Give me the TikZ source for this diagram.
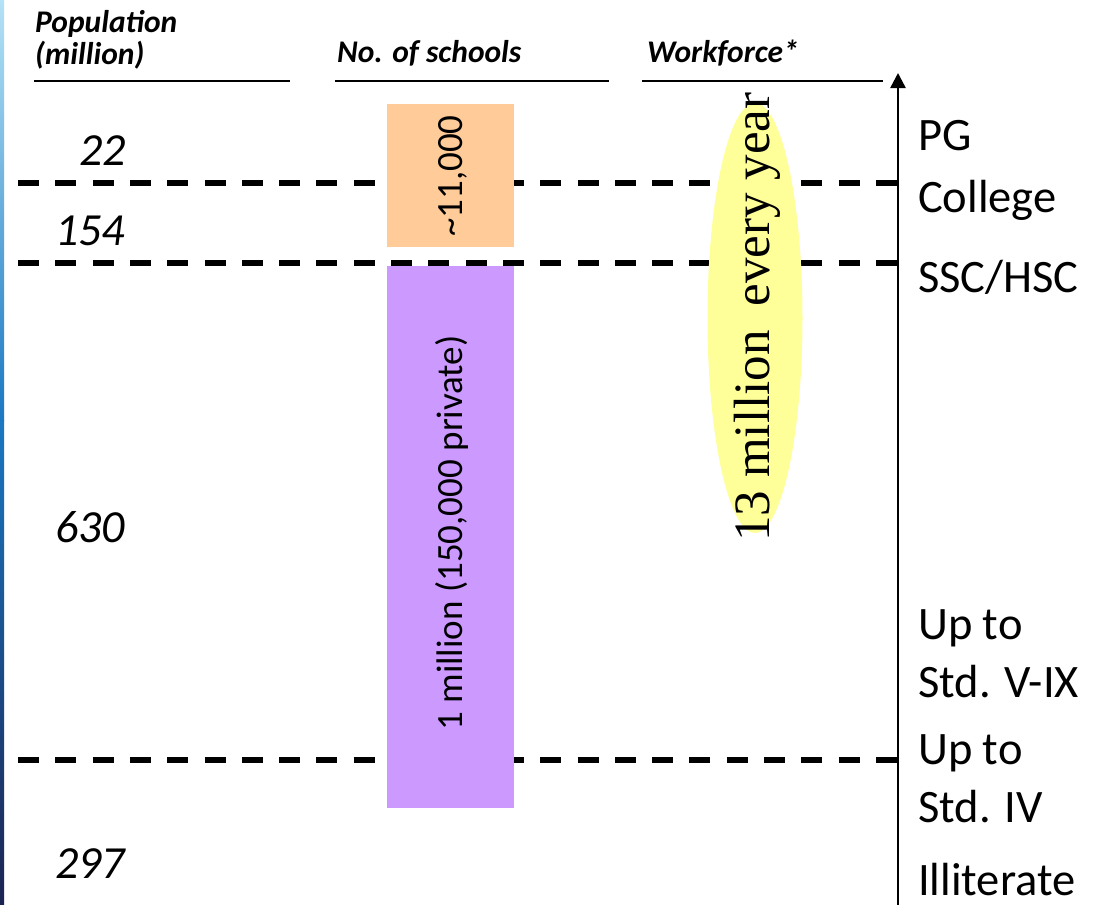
\documentclass[tikz,border=0pt]{standalone}
\usepackage{fontspec}
\setmainfont{Carlito}
\newfontfamily\timesfont{Liberation Serif}
\usetikzlibrary{arrows.meta}
\definecolor{peach}{HTML}{FFCC99}
\definecolor{lilac}{HTML}{CC99FF}
\definecolor{lemon}{HTML}{FFFF99}
\definecolor{stripTop}{HTML}{B4E2F6}
\definecolor{stripMid}{HTML}{1A78C2}
\definecolor{stripBot}{HTML}{1C2352}
\tikzset{
  hdr/.style={anchor=base west, inner sep=0pt, font=\fontsize{31.5}{36}\selectfont\bfseries\itshape},
  popnum/.style={anchor=base west, inner sep=0pt, font=\fontsize{46}{54}\selectfont\itshape},
  level/.style={anchor=base west, inner sep=0pt, font=\fontsize{46.5}{54}\selectfont},
  boxtext/.style={inner sep=0pt, rotate=90, font=\fontsize{37}{44}\selectfont},
  divider/.style={line width=5.5pt, dash pattern=on 21pt off 16.3pt},
  rule/.style={line width=2pt},
}
\begin{document}
\begin{tikzpicture}[x=1pt,y=-1pt]
\useasboundingbox (0,0) rectangle (1104,905);
\fill[white] (0,0) rectangle (1104,905);
% left slide strip
\shade[top color=stripTop, bottom color=stripMid] (0,0) rectangle (4,420);
\shade[top color=stripMid, bottom color=stripBot] (0,420) rectangle (4,905);

% headers
\node[hdr] (hpop) at (35,32) {Population};
\node[hdr] (hmil) at (35,64) {(million)};
\node[hdr] (hsch) at (337,62) {No. of schools};
\node[hdr] (hwork) at (647,62) {Workforce*};
\coordinate (r1a) at (34,81);  \coordinate (r1b) at (290,81);
\coordinate (r2a) at (335,81); \coordinate (r2b) at (609,81);
\coordinate (r3a) at (642,81); \coordinate (r3b) at (883,81);
\draw[rule] (r1a) -- (r1b);
\draw[rule] (r2a) -- (r2b);
\draw[rule] (r3a) -- (r3b);

% dashed level dividers
\coordinate (d1a) at (18,183); \coordinate (d1b) at (898,183);
\coordinate (d2a) at (18,263); \coordinate (d2b) at (898,263);
\coordinate (d3a) at (18,760); \coordinate (d3b) at (898,760);
\draw[divider] (d1a) -- (d1b);
\draw[divider] (d2a) -- (d2b);
\draw[divider] (d3a) -- (d3b);

% school boxes
\fill[peach] (387,104) rectangle (514,247);
\fill[lilac] (387,266) rectangle (514,808);
\node[boxtext] (t11) at (453,176) {\textasciitilde 11,000};
\node[boxtext] (t1m) at (452,533) {1 million (150,000 private)};

% workforce ellipse
\fill[lemon] (755,318) ellipse [x radius=47.5, y radius=215];
\node[inner sep=0pt, rotate=90, anchor=base, font=\fontsize{51}{60}\selectfont\timesfont] (wf) at (769,317) {13 million\hspace{24pt}every\hspace{13pt}year};

% axis
\coordinate (axb) at (898,905);
\coordinate (axt) at (898,73);
\draw[line width=2.5pt, -{Triangle[length=15pt,width=15pt]}] (axb) -- (axt);

% population numbers
\node[popnum] (p1) at (79,165) {22};
\node[popnum] (p2) at (55,245) {154};
\node[popnum] (p3) at (55,542) {630};
\node[popnum] (p4) at (55,878) {297};

% level labels
\node[level] (l1) at (918,150) {PG};
\node[level] (l2) at (918,212) {College};
\node[level] (l3) at (918,292) {SSC/HSC};
\node[level] (l4) at (918,639) {Up to};
\node[level] (l5) at (918,697) {Std. V-IX};
\node[level] (l6) at (918,764) {Up to};
\node[level] (l7) at (918,822) {Std. IV};
\node[level] (l8) at (918,895) {Illiterate};
\end{tikzpicture}
\end{document}
